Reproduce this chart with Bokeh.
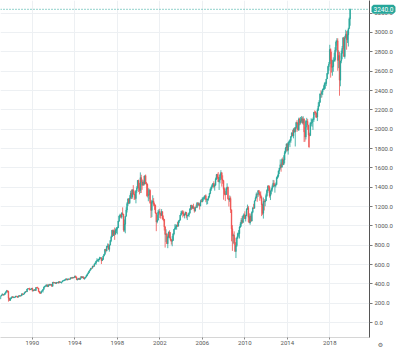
from bokeh.plotting import figure
from bokeh.models import FixedTicker, Span, Label, NumeralTickFormatter, ColumnDataSource
from bokeh.embed import file_html
from bokeh.resources import INLINE

years = list(range(1987, 2020))
first_open = 242.2

close = [
    274.1, 284.2, 291.7, 288.4, 290.1, 304.0, 318.7, 329.8, 321.8, 251.8, 230.3, 247.1,
    257.1, 267.8, 258.9, 261.3, 262.2, 273.5, 272.0, 261.5, 271.9, 279.0, 273.7, 277.7,
    297.5, 288.9, 294.9, 309.6, 320.5, 318.0, 346.1, 351.5, 349.2, 340.4, 346.0, 353.4,
    329.1, 331.9, 339.9, 330.8, 361.2, 358.0, 356.2, 322.6, 306.1, 304.0, 322.2, 330.2,
    343.9, 367.1, 375.2, 375.3, 389.8, 371.2, 387.8, 395.4, 387.9, 392.5, 375.2, 417.1,
    408.8, 412.7, 403.7, 415.0, 415.4, 408.1, 424.2, 414.0, 417.8, 418.7, 431.4, 435.7,
    438.8, 443.4, 451.7, 440.2, 450.2, 450.5, 448.1, 463.6, 458.9, 467.8, 461.8, 466.5,
    481.6, 467.1, 445.8, 450.9, 456.5, 444.3, 458.3, 475.5, 462.7, 472.4, 453.7, 459.3,
    470.4, 487.4, 500.7, 514.7, 533.4, 544.8, 562.1, 561.9, 584.4, 581.5, 605.4, 615.9,
    636.0, 640.4, 645.5, 654.2, 669.1, 670.6, 640.0, 652.0, 687.3, 705.3, 757.0, 740.7,
    786.2, 790.8, 757.1, 801.3, 848.3, 885.1, 954.3, 899.5, 947.3, 914.6, 955.4, 970.4,
    980.3, 1049.3, 1101.8, 1111.8, 1090.8, 1133.8, 1120.7, 957.3, 1017.0, 1098.7, 1163.6, 1229.2,
    1279.6, 1238.3, 1286.4, 1335.2, 1301.8, 1372.7, 1328.7, 1320.4, 1282.7, 1362.9, 1388.9, 1469.3,
    1394.5, 1366.4, 1498.6, 1452.4, 1420.6, 1454.6, 1430.8, 1517.7, 1436.5, 1429.4, 1315.2, 1320.3,
    1366.0, 1239.9, 1160.3, 1249.5, 1255.8, 1224.4, 1211.2, 1133.6, 1040.9, 1059.8, 1139.5, 1148.1,
    1130.2, 1106.7, 1147.4, 1076.9, 1067.1, 989.8, 911.6, 916.1, 815.3, 885.8, 936.3, 879.8,
    855.7, 841.2, 848.2, 916.9, 963.6, 974.5, 990.3, 1008.0, 996.0, 1050.7, 1058.2, 1111.9,
    1131.1, 1144.9, 1126.2, 1107.3, 1120.7, 1140.8, 1101.7, 1104.2, 1114.6, 1130.2, 1173.8, 1211.9,
    1181.3, 1203.6, 1180.6, 1156.9, 1191.5, 1191.3, 1234.2, 1220.3, 1228.8, 1207.0, 1249.5, 1248.3,
    1280.1, 1280.7, 1294.9, 1310.6, 1270.1, 1270.2, 1276.7, 1303.8, 1335.9, 1377.9, 1400.6, 1418.3,
    1438.2, 1406.8, 1420.9, 1482.4, 1530.6, 1503.4, 1455.3, 1474.0, 1526.8, 1549.4, 1481.1, 1468.4,
    1378.6, 1330.6, 1322.7, 1385.6, 1400.4, 1280.0, 1267.4, 1282.8, 1166.4, 968.8, 896.2, 903.3,
    825.9, 735.1, 797.9, 872.8, 919.1, 919.3, 987.5, 1020.6, 1057.1, 1036.2, 1095.6, 1115.1,
    1073.9, 1104.5, 1169.4, 1186.7, 1089.4, 1030.7, 1101.6, 1049.3, 1141.2, 1183.3, 1180.6, 1257.6,
    1286.1, 1327.2, 1325.8, 1363.6, 1345.2, 1320.6, 1292.3, 1218.9, 1131.4, 1253.3, 1247.0, 1257.6,
    1312.4, 1365.7, 1408.5, 1397.9, 1310.3, 1362.2, 1379.3, 1406.6, 1440.7, 1412.2, 1416.2, 1426.2,
    1498.1, 1514.7, 1569.2, 1597.6, 1630.7, 1606.3, 1685.7, 1633.0, 1681.6, 1756.5, 1805.8, 1848.4,
    1782.6, 1859.5, 1872.3, 1884.0, 1923.6, 1960.2, 1930.7, 2003.4, 1972.3, 2018.1, 2067.6, 2058.9,
    1995.0, 2104.5, 2067.9, 2085.5, 2107.4, 2063.1, 2103.8, 1972.2, 1920.0, 2079.4, 2080.4, 2043.9,
    1940.2, 1932.2, 2059.7, 2065.3, 2097.0, 2098.9, 2173.6, 2171.0, 2168.3, 2126.2, 2199.0, 2238.8,
    2278.9, 2363.6, 2362.7, 2384.2, 2411.8, 2423.4, 2470.3, 2471.7, 2519.4, 2575.3, 2647.6, 2673.6,
    2823.8, 2713.8, 2640.9, 2648.1, 2705.3, 2718.4, 2816.3, 2901.5, 2914.0, 2711.7, 2760.2, 2506.9,
    2704.1, 2784.5, 2834.4, 2945.8, 2752.1, 2941.8, 2980.4, 2926.5, 2976.7, 3037.6, 3141.0, 3240.0,
]

high = [
    280.9, 285.5, 301.9, 293, 296, 308, 319, 337, 330, 328, 256, 250,
    263, 268, 272, 266, 263, 275, 274, 272, 273, 283, 280, 280,
    298, 300, 298, 311, 322, 327, 347, 354, 352, 360, 347, 354,
    360, 336, 345, 345, 362, 368, 370, 357, 325, 316, 323, 332,
    345, 371, 380, 391, 391, 392, 391, 397, 396, 395, 398, 418,
    421, 414, 413, 418, 419, 416, 425, 425, 422, 419, 432, 437,
    443, 448, 456, 452, 453, 453, 451, 464, 464, 469, 470, 471,
    483, 483, 472, 453, 458, 463, 459, 476, 477, 474, 474, 466,
    473, 490, 504, 516, 534, 546, 564, 565, 586, 587, 608, 622,
    637, 665, 657, 660, 680, 674, 673, 667, 690, 710, 758, 762,
    794, 818, 815, 806, 851, 898, 957, 961, 961, 983, 972, 987,
    992, 1051, 1106, 1125, 1123, 1139, 1191, 1121, 1066, 1100, 1192, 1245,
    1280, 1284, 1317, 1363, 1376, 1376, 1421, 1365, 1352, 1367, 1410, 1474,
    1478, 1445, 1553, 1528, 1481, 1475, 1517, 1519, 1531, 1454, 1438, 1389,
    1384, 1377, 1263, 1269, 1316, 1287, 1240, 1220, 1135, 1111, 1163, 1173,
    1177, 1131, 1173, 1147, 1107, 1070, 994, 965, 924, 900, 941, 954,
    935, 864, 895, 924, 966, 1016, 1016, 1011, 1040, 1054, 1063, 1112,
    1155, 1159, 1163, 1151, 1128, 1146, 1141, 1109, 1131, 1142, 1184, 1217,
    1218, 1212, 1229, 1192, 1199, 1219, 1246, 1245, 1243, 1233, 1270, 1276,
    1295, 1297, 1310, 1318, 1326, 1284, 1280, 1306, 1340, 1389, 1407, 1431,
    1441, 1461, 1438, 1499, 1535, 1540, 1556, 1504, 1539, 1576, 1553, 1523,
    1471, 1396, 1359, 1397, 1440, 1405, 1292, 1314, 1304, 1167, 1007, 919,
    943, 877, 832, 888, 930, 956, 996, 1039, 1080, 1101, 1113, 1130,
    1150, 1113, 1181, 1220, 1206, 1131, 1120, 1130, 1150, 1196, 1228, 1263,
    1303, 1345, 1333, 1367, 1371, 1346, 1357, 1308, 1230, 1293, 1277, 1270,
    1334, 1378, 1420, 1422, 1416, 1364, 1392, 1427, 1475, 1471, 1434, 1448,
    1509, 1530, 1570, 1598, 1687, 1654, 1698, 1709, 1730, 1776, 1814, 1849,
    1850, 1867, 1883, 1897, 1924, 1968, 1991, 2006, 2019, 2019, 2076, 2093,
    2072, 2119, 2118, 2126, 2135, 2130, 2133, 2113, 2021, 2094, 2117, 2104,
    2038, 1963, 2073, 2112, 2103, 2120, 2178, 2194, 2187, 2170, 2214, 2278,
    2300, 2371, 2401, 2399, 2419, 2454, 2484, 2491, 2519, 2582, 2657, 2695,
    2873, 2836, 2801, 2718, 2743, 2791, 2848, 2917, 2941, 2940, 2815, 2800,
    2708, 2813, 2860, 2949, 2955, 2965, 3028, 3014, 3022, 3050, 3155, 3247,
]

low = [
    242.2, 272, 282, 275, 278, 288, 302, 313, 309, 216, 225, 223,
    242, 252, 257, 252, 253, 261, 265, 256, 261, 271, 264, 272,
    274, 288, 287, 293, 307, 316, 317, 343, 343, 331, 337, 340,
    320, 322, 329, 326, 330, 356, 352, 315, 300, 295, 302, 321,
    310, 340, 362, 371, 374, 368, 370, 378, 383, 380, 371, 372,
    406, 407, 401, 398, 410, 403, 407, 412, 413, 403, 418, 427,
    428, 431, 442, 436, 437, 442, 442, 447, 456, 457, 454, 461,
    465, 464, 438, 435, 440, 442, 444, 457, 461, 460, 449, 443,
    457, 469, 480, 501, 511, 530, 542, 553, 562, 573, 580, 603,
    597, 634, 627, 625, 645, 659, 605, 639, 650, 685, 703, 723,
    737, 774, 756, 733, 798, 832, 884, 898, 896, 855, 907, 926,
    912, 979, 1041, 1077, 1083, 1074, 1112, 940, 939, 923, 1098, 1138,
    1205, 1224, 1226, 1282, 1277, 1281, 1325, 1268, 1268, 1233, 1342, 1387,
    1350, 1325, 1339, 1340, 1373, 1420, 1413, 1431, 1436, 1305, 1294, 1254,
    1275, 1228, 1081, 1091, 1232, 1203, 1165, 1124, 945, 1026, 1054, 1114,
    1081, 1074, 1106, 1063, 1048, 952, 775, 833, 815, 769, 872, 871,
    840, 806, 789, 847, 902, 962, 962, 960, 990, 996, 1031, 1058,
    1105, 1122, 1087, 1107, 1077, 1113, 1078, 1060, 1102, 1090, 1131, 1163,
    1163, 1180, 1176, 1137, 1146, 1188, 1183, 1201, 1205, 1168, 1202, 1246,
    1245, 1253, 1268, 1280, 1245, 1219, 1225, 1261, 1290, 1327, 1360, 1385,
    1403, 1389, 1364, 1416, 1476, 1484, 1454, 1371, 1439, 1489, 1406, 1435,
    1270, 1316, 1256, 1324, 1373, 1272, 1200, 1248, 1133, 840, 741, 815,
    805, 735, 667, 783, 866, 888, 869, 979, 992, 1020, 1029, 1086,
    1071, 1045, 1101, 1170, 1040, 1029, 1011, 1040, 1048, 1131, 1174, 1186,
    1262, 1289, 1249, 1299, 1312, 1259, 1282, 1101, 1114, 1075, 1159, 1203,
    1258, 1300, 1341, 1358, 1292, 1267, 1325, 1354, 1396, 1403, 1343, 1398,
    1426, 1485, 1501, 1536, 1581, 1560, 1605, 1627, 1633, 1646, 1747, 1768,
    1770, 1737, 1834, 1814, 1859, 1915, 1930, 1905, 1964, 1821, 2001, 1972,
    1988, 1981, 2040, 2048, 2067, 2056, 2044, 1867, 1871, 1893, 2019, 1993,
    1812, 1810, 1937, 2034, 2025, 1992, 2075, 2148, 2120, 2115, 2084, 2188,
    2233, 2272, 2322, 2328, 2353, 2405, 2407, 2417, 2446, 2520, 2566, 2605,
    2682, 2533, 2585, 2553, 2594, 2698, 2699, 2796, 2864, 2604, 2631, 2346,
    2444, 2682, 2723, 2848, 2750, 2729, 2953, 2822, 2892, 2855, 3051, 3070,
]

x_ticks = [1990, 1994, 1998, 2002, 2006, 2010, 2014, 2018]
y_ticks = [0, 200, 400, 600, 800, 1000, 1200, 1400, 1600, 1800, 2000,
           2200, 2400, 2600, 2800, 3000, 3200]
last_price = 3240.0

UP = "#26a69a"
DOWN = "#ef5350"
X_START, X_END = 1987.0, 2021.74
Y_START, Y_END = -155, 3331

xs = [y + m / 12.0 for y in years for m in range(12)]
opens = [first_open] + close[:-1]
colors = [UP if c >= o else DOWN for o, c in zip(opens, close)]
src = ColumnDataSource(dict(x=xs, open=opens, close=close, high=high, low=low,
                            top=[max(o, c) for o, c in zip(opens, close)],
                            bottom=[min(o, c) for o, c in zip(opens, close)],
                            color=colors))

p = figure(width=400, height=354, output_backend="svg", toolbar_location=None,
           x_range=(X_START, X_END), y_range=(Y_START, Y_END),
           y_axis_location="right",
           min_border_left=0, min_border_top=0, min_border_right=29, min_border_bottom=17)
p.outline_line_color = None
p.background_fill_color = "white"
p.border_fill_color = "white"

p.xgrid.ticker = FixedTicker(ticks=x_ticks)
p.ygrid.ticker = FixedTicker(ticks=y_ticks)
p.xgrid.grid_line_color = "#edf0f3"
p.ygrid.grid_line_color = "#edf0f3"

p.xaxis.ticker = FixedTicker(ticks=x_ticks)
p.xaxis.formatter = NumeralTickFormatter(format="0")
p.yaxis.ticker = FixedTicker(ticks=y_ticks)
p.yaxis.formatter = NumeralTickFormatter(format="0.0")

for ax in (p.xaxis[0], p.yaxis[0]):
    ax.major_label_text_font = "Roboto"
    ax.major_label_text_font_size = "6px"
    ax.major_label_text_color = "#555555"
    ax.minor_tick_line_color = None
p.xaxis.major_tick_line_color = "#888888"
p.xaxis.major_tick_out = 2
p.xaxis.major_tick_in = 0
p.xaxis.axis_line_color = "#d6d6d6"
p.xaxis.major_label_standoff = 1
p.yaxis.axis_line_color = "#555555"
p.yaxis.major_tick_line_color = "#777777"
p.yaxis.major_tick_in = 0
p.yaxis.major_tick_out = 3
p.yaxis.major_label_standoff = 2

p.segment(x0="x", y0="low", x1="x", y1="high", color="color", line_width=0.8, source=src)
p.vbar(x="x", top="top", bottom="bottom", width=0.065, fill_color="color",
       line_color="color", line_width=0.5, source=src)

p.add_layout(Span(location=last_price, dimension="width", line_color=UP,
                  line_dash="1 2", line_width=1))

# last-price tag; placed in a side panel so that it is not clipped to the frame
tag = Label(x=X_END, y=last_price, x_offset=4, text="%.1f" % last_price,
            text_align="left", text_baseline="middle", text_color="white",
            text_font="Roboto", text_font_size="6.5px",
            background_fill_color=UP, border_line_color=UP, border_line_width=4,
            padding=0)
p.add_layout(tag, "below")

# settings gear in the bottom-right corner
gear = Label(x=X_END, y=Y_START, x_offset=11, y_offset=-7, text="\u2699",
             text_align="center", text_baseline="middle", text_color="#666666",
             text_font="DejaVu Sans", text_font_size="6px", padding=0)
p.add_layout(gear, "right")

open("out.html", "w").write(file_html(p, INLINE))
